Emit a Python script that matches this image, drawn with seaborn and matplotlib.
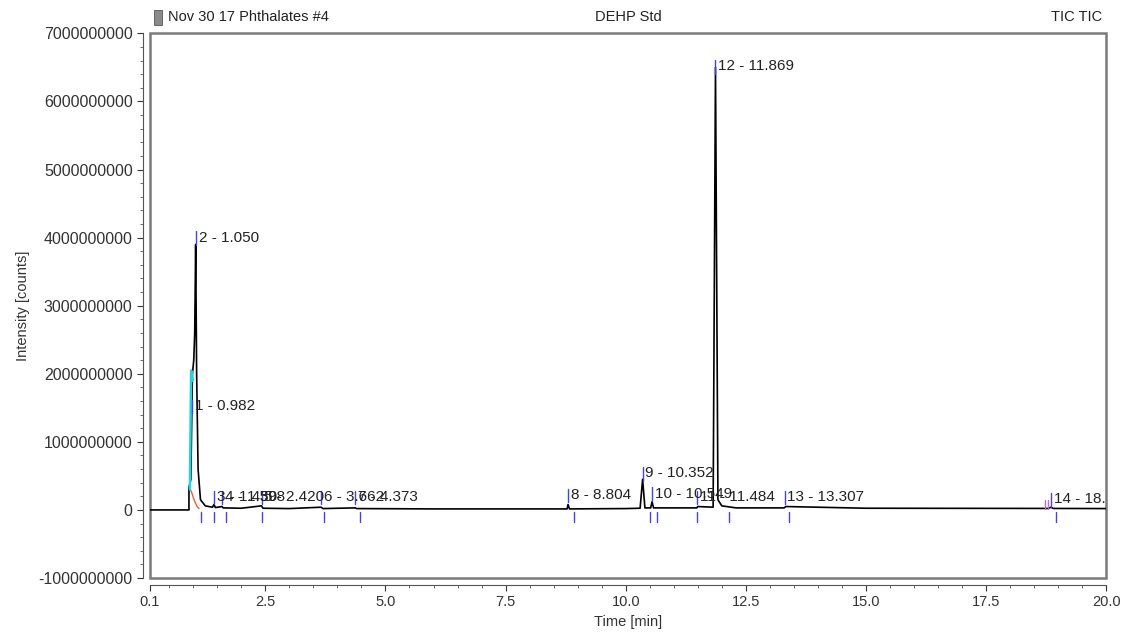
import numpy as np
import pandas as pd
import matplotlib
matplotlib.use("Agg")
import matplotlib.pyplot as plt
import seaborn as sns
from matplotlib.ticker import MultipleLocator, FixedLocator
from matplotlib.patches import Rectangle

# TIC trace
time_min = [0.1, 0.91, 0.91, 0.95, 0.982, 1.01, 1.03, 1.050, 1.07, 1.10,
            1.15, 1.25, 1.40, 1.43, 1.46, 1.60, 1.62, 2.0, 2.42, 2.45,
            3.0, 3.66, 3.70, 4.37, 4.40, 6.0, 8.78, 8.80, 8.83, 10.0,
            10.30, 10.352, 10.40, 10.52, 10.549, 10.58, 11.48, 11.50, 11.82, 11.869,
            11.92, 12.0, 12.3, 13.30, 13.33, 15.0, 18.8, 18.85, 18.9, 20.0]
intensity = [0, 0, 3.3e8, 4.5e8, 2.0e9, 2.2e9, 2.6e9, 3.9e9, 2.0e9, 6.0e8,
             1.5e8, 6e7, 4e7, 8e7, 3.5e7, 5e7, 3e7, 2.5e7, 6e7, 2.5e7,
             2e7, 4e7, 2e7, 3e7, 2e7, 1.5e7, 1.5e7, 8e7, 1.5e7, 2e7,
             2.5e7, 4.5e8, 3e7, 3e7, 1.2e8, 3e7, 3e7, 5e7, 4e7, 6.5e9,
             1.5e8, 6e7, 3e7, 3e7, 5e7, 2.5e7, 2.2e7, 4e7, 2.2e7, 2e7]

# peak 1 (cyan) and integration baseline (red)
cyan_time = [0.93, 0.955, 0.99]
cyan_int = [3.0e8, 2.05e9, 1.9e9]
red_time = [0.92, 0.97, 1.02, 1.08, 1.12]
red_int = [3.3e8, 2.5e8, 1.4e8, 5e7, 2e7]

# peak annotations
peak_num = [1, 2, 3, 4, 5, 6, 7, 8, 9, 10, 11, 12, 13, 14]
peak_rt = [0.982, 1.050, 1.430, 1.598, 2.420, 3.662, 4.373, 8.804,
           10.352, 10.549, 11.484, 11.869, 13.307, 18.846]
label_y = [1.53e9, 4.0e9, 1.9e8, 1.9e8, 1.9e8, 1.9e8, 1.9e8, 2.2e8,
           5.4e8, 2.4e8, 1.9e8, 6.52e9, 1.9e8, 1.6e8]
# peak-boundary markers below the baseline
bound_rt = [1.16, 1.44, 1.69, 2.44, 3.73, 4.46, 8.92, 10.51, 10.66,
            11.48, 12.15, 13.40, 18.96]

x_ticks = [0.1, 2.5, 5.0, 7.5, 10.0, 12.5, 15.0, 17.5, 20.0]
y_ticks = [-1e9, 0, 1e9, 2e9, 3e9, 4e9, 5e9, 6e9, 7e9]

sns.set_style("white")
plt.rcParams['font.family'] = ['Liberation Sans', 'DejaVu Sans']

fig = plt.figure(figsize=(11.23, 6.37), dpi=100)
ax = fig.add_axes([0.1336, 0.0926, 0.8514, 0.855])

df = pd.DataFrame({'t': time_min, 'i': intensity})
sns.lineplot(data=df, x='t', y='i', sort=False, estimator=None,
             color='black', linewidth=1.2, ax=ax)
ax.plot(red_time, red_int, color='#e8603a', linewidth=1.0)
ax.plot(cyan_time, cyan_int, color='#22d3e0', linewidth=1.8)

for n, rt, ly in zip(peak_num, peak_rt, label_y):
    ax.plot([rt, rt], [ly - 1.1e8, ly + 0.9e8], color='#4444dd', linewidth=1.0)
    ax.text(rt + 0.06, ly, f"{n} - {rt:.3f}", fontsize=11, color='#222222',
            va='center', ha='left', clip_on=True)
for b in bound_rt:
    ax.plot([b, b], [-3e7, -1.8e8], color='#4444dd', linewidth=1.0)
for p in [18.72, 18.78]:
    ax.plot([p, p], [2e7, 1.5e8], color='#c070c0', linewidth=1.0)

ax.set_xlim(0.1, 20.0)
ax.set_ylim(-1e9, 7e9)
ax.xaxis.set_major_locator(FixedLocator(x_ticks))
ax.xaxis.set_minor_locator(MultipleLocator(0.5))
ax.set_xticklabels([f"{v:.1f}" for v in x_ticks])
ax.yaxis.set_major_locator(FixedLocator(y_ticks))
ax.yaxis.set_minor_locator(MultipleLocator(2e8))
ax.set_yticklabels([f"{int(v)}" for v in y_ticks])
ax.tick_params(axis='both', which='major', length=4, width=0.8,
               colors='#333333', bottom=True, left=True)
ax.tick_params(axis='x', which='major', labelsize=10.5)
ax.tick_params(axis='y', which='major', labelsize=11.5)
ax.tick_params(axis='both', which='minor', length=2, width=0.6,
               colors='#555555', bottom=True, left=True)

for s in ['top', 'right']:
    ax.spines[s].set_visible(False)
for s in ['left', 'bottom']:
    ax.spines[s].set_position(('outward', 5))
    ax.spines[s].set_color('#555555')
    ax.spines[s].set_linewidth(0.8)
ax.add_patch(Rectangle((0, 0), 1, 1, transform=ax.transAxes, fill=False,
                       edgecolor='#7a7a7a', linewidth=1.8, clip_on=False))

ax.set_xlabel('Time [min]', fontsize=10.5, color='#333333', labelpad=4)
ax.set_ylabel('Intensity [counts]', fontsize=10.5, color='#333333', labelpad=6)

fig.patches.append(Rectangle((154 / 1123, 1 - 25 / 637), 8 / 1123, 15 / 637,
                             transform=fig.transFigure, facecolor='#8a8a8a',
                             edgecolor='#555555', linewidth=0.6))
fig.text(168 / 1123, 1 - 17 / 637, 'Nov 30 17 Phthalates #4', fontsize=10.5,
         color='#222222', va='center', ha='left')
fig.text(628 / 1123, 1 - 17 / 637, 'DEHP Std', fontsize=10.5,
         color='#222222', va='center', ha='center')
fig.text(1102 / 1123, 1 - 17 / 637, 'TIC TIC', fontsize=10.5,
         color='#222222', va='center', ha='right')

fig.savefig('out.png', dpi=100)
